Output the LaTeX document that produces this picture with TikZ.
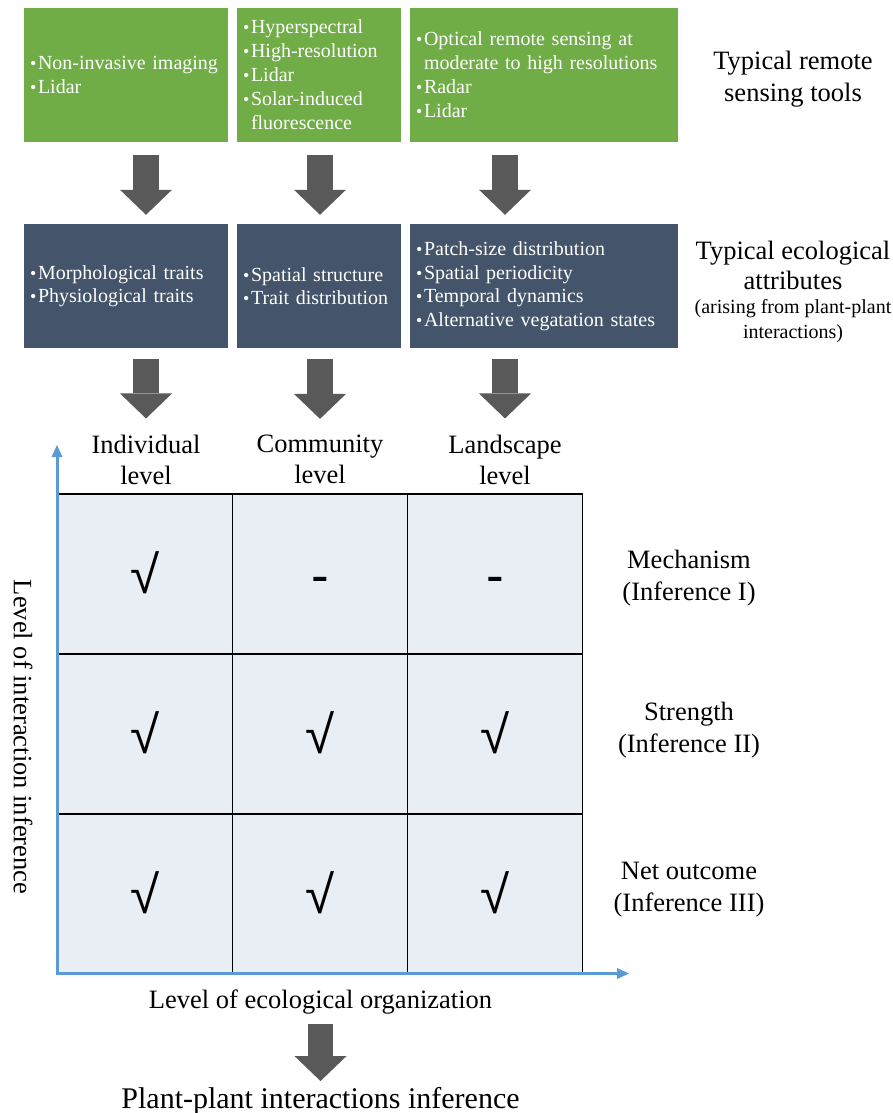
\documentclass[tikz,border=0pt]{standalone}
\usepackage{fontspec}
\setmainfont{Liberation Serif}
\newfontfamily\symfont{Liberation Sans}
\usetikzlibrary{arrows.meta}

\definecolor{toolgreen}{HTML}{70AD47}
\definecolor{attrslate}{HTML}{44546A}
\definecolor{cellfill}{HTML}{E9EDF4}
\definecolor{arrowgray}{HTML}{595959}
\definecolor{axisblue}{HTML}{5B9BD5}

\newcommand{\bul}{\makebox[8pt][l]{\fontsize{18}{18}\selectfont\textbullet}}
\newcommand{\ind}{\hspace*{8pt}}
\newcommand{\chk}{{\symfont √}}
\newcommand{\dsh}{{\symfont -}}

\begin{document}
\begin{tikzpicture}[x=1pt, y=-1pt,
		box/.style={inner xsep=6pt, inner ysep=0pt, align=left, text=white,
			font=\fontsize{20}{24}\selectfont},
		toolbox/.style={box, fill=toolgreen, minimum height=134pt},
		attrbox/.style={box, fill=attrslate, minimum height=124pt,
			font=\fontsize{20}{23.5}\selectfont},
		lvl/.style={align=center, inner sep=0pt, font=\fontsize{26.5}{31}\selectfont},
		infer/.style={lvl, font=\fontsize{26.5}{32}\selectfont},
		cell/.style={draw=black, line width=1.2pt, fill=cellfill, inner sep=0pt,
			minimum width=175pt, minimum height=160pt, text height=38pt, text depth=0pt,
			font=\fontsize{53}{53}\selectfont},
		bigarrow/.style={draw=arrowgray, line width=25.5pt,
			-{Triangle[width=52pt, length=25pt, line width=0pt]}},
		axis/.style={draw=axisblue, line width=3pt,
			{Triangle[width=11pt, length=12pt, line width=0pt]}-{Triangle[width=11pt, length=12pt, line width=0pt]}}]
		\useasboundingbox (0,0) rectangle (893,1113);

		% remote sensing tools
		\node [toolbox, text width=192pt] (tool1) at (126,75)
			{\bul Non-invasive imaging\\ \bul Lidar};
		\node [toolbox, text width=152pt] (tool2) at (319,75)
			{\bul Hyperspectral\\ \bul High-resolution\\ \bul Lidar\\ \bul Solar-induced\\ \ind fluorescence};
		\node [toolbox, text width=256pt] (tool3) at (544,75)
			{\bul Optical remote sensing at\\ \ind moderate to high resolutions\\ \bul Radar\\ \bul Lidar};

		% ecological attributes
		\node [attrbox, text width=192pt] (attr1) at (126,286)
			{\bul Morphological traits\\ \bul Physiological traits};
		\node [attrbox, text width=152pt] (attr2) at (319,286)
			{\bul Spatial structure\\ \bul Trait distribution};
		\node [attrbox, text width=256pt] (attr3) at (544,286)
			{\bul Patch-size distribution\\ \bul Spatial periodicity\\ \bul Temporal dynamics\\ \bul Alternative vegatation states};

		% row titles on the right
		\node [lvl, font=\fontsize{26.5}{32}\selectfont] (toolhead) at (793,79) {Typical remote\\sensing tools};
		\node [lvl, font=\fontsize{26.5}{30}\selectfont] (attrhead) at (793,265) {Typical ecological\\attributes};
		\node [lvl, font=\fontsize{20}{25}\selectfont] (attrnote) at (793,321) {(arising from plant-plant\\interactions)};

		% levels of organization
		\node [lvl] (lvl1) at (146,459.5) {Individual\\level};
		\node [lvl] (lvl2) at (320,459.5) {Community\\level};
		\node [lvl] (lvl3) at (505,459.5) {Landscape\\level};

		\foreach \i in {1,2,3} {
			\draw [bigarrow, shorten <=13pt, shorten >=9pt] (tool\i.south -| lvl\i) -- (attr\i.north -| lvl\i);
			\draw [bigarrow, shorten <=11pt, shorten >=16pt] (attr\i.south -| lvl\i) -- (lvl\i.north);
		}

		% inference table
		\foreach \row/\marks in {1/{\chk,\dsh,\dsh}, 2/{\chk,\chk,\chk}, 3/{\chk,\chk,\chk}}
			\foreach \m [count=\col] in \marks
				\node [cell] (c\row\col) at ({145+175*(\col-1)},{574+160*(\row-1)}) {\m};

		\node [infer] (inf1) at (689,578) {Mechanism\\(Inference I)};
		\node [infer] (inf2) at (689,730) {Strength\\(Inference II)};
		\node [infer] (inf3) at (689,890) {Net outcome\\(Inference III)};

		% axes
		\coordinate (origin) at (57,973.5);
		\coordinate (xtip) at (629,973.5);
		\coordinate (ytip) at (57,445);
		\draw [axis] (ytip) -- (origin) -- (xtip);

		\node [lvl, rotate=-90] (ylbl) at (23,737) {Level of interaction inference};
		\node [lvl] (orglbl) at (320.5,1002) {Level of ecological organization};
		\node [lvl, font=\fontsize{30}{36}\selectfont] (outcome) at (320.5,1101) {Plant-plant interactions inference};

		\draw [bigarrow, shorten <=10pt, shorten >=6pt] (orglbl.south) -- (outcome.north);
	\end{tikzpicture}
\end{document}
